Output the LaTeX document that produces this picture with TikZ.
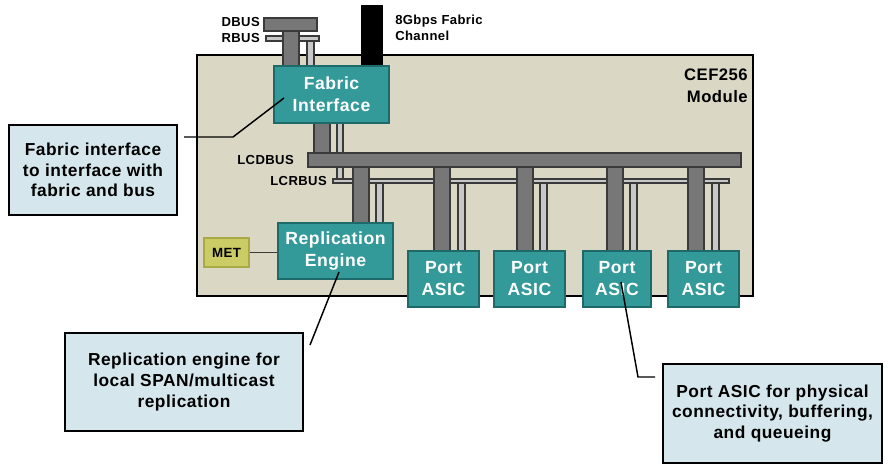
\documentclass[tikz,border=0pt]{standalone}
\usepackage{fontspec}
\setmainfont{Liberation Sans}[LetterSpace=3]
\definecolor{modbg}{RGB}{218,216,197}
\definecolor{tealf}{RGB}{51,153,153}
\definecolor{teald}{RGB}{30,105,105}
\definecolor{busg}{RGB}{119,119,119}
\definecolor{busd}{RGB}{58,58,58}
\definecolor{thinf}{RGB}{200,200,200}
\definecolor{callf}{RGB}{213,231,237}
\definecolor{metf}{RGB}{204,204,102}
\definecolor{metd}{RGB}{170,170,68}
\tikzset{
  bx/.style args={#1/#2}{minimum width={(#1)*0.75pt}, minimum height={(#2)*0.75pt}, inner sep=0pt, align=center},
  comp/.style={draw=teald, fill=tealf, line width=1.3pt, text=white, font=\fontsize{13.2}{16.5}\selectfont\bfseries},
  callout/.style={draw=black, fill=callf, line width=1.6pt, text=black, font=\fontsize{13}{15.4}\selectfont\bfseries},
  metbox/.style={draw=metd, fill=metf, line width=1.3pt, font=\fontsize{10}{12}\selectfont\bfseries},
  thick bus/.style={fill=busg, draw=busd, line width=1pt},
  thin bus/.style={fill=thinf, draw=busd, line width=0.9pt},
  lbl/.style={font=\fontsize{9.8}{12}\selectfont\bfseries, inner sep=0pt},
  leader/.style={draw=black, line width=1.1pt},
}
\begin{document}
\begin{tikzpicture}[x=0.75pt, y=-0.75pt]
\useasboundingbox (0,0) rectangle (888,473);
% module
\draw[fill=modbg, line width=1.6pt] (197,55) rectangle (753,296);
% thin verticals
\draw[thin bus] (307,41) rectangle (314,66);
\draw[thin bus] (337,123) rectangle (343,179);
\foreach \a/\b in {376/223,458/251,540/251,630/251,712/251}
  \draw[thin bus] (\a,183) rectangle (\a+7,\b);
% thin bars
\draw[thin bus] (266,36) rectangle (319,41);
\draw[thin bus] (333,179) rectangle (729,183);
% thick verticals
\draw[thick bus] (283,31) rectangle (299,66);
\draw[thick bus] (314,123) rectangle (330,153);
\foreach \a/\b in {353/223,434/251,517/251,607/251,688/251}
  \draw[thick bus] (\a,167) rectangle (\a+16,\b);
% thick bars
\draw[thick bus] (264,18) rectangle (317,31);
\draw[thick bus] (308,153) rectangle (741,167);
% fabric channel
\fill[black] (361,5) rectangle (383,66);
% components
\node[comp, bx=115/57] (fab) at (331.5,94.5) {Fabric\\Interface};
\node[comp, bx=115/56] (rep) at (335.5,251) {Replication\\Engine};
\node[comp, bx=71/56] (p1) at (443.5,279) {Port\\ASIC};
\node[comp, bx=71/56] (p2) at (529.5,279) {Port\\ASIC};
\node[comp, bx=68/56] (p3) at (617,279) {Port\\ASIC};
\node[comp, bx=71/56] (p4) at (703.5,279) {Port\\ASIC};
\node[metbox, bx=45/29] (met) at (226.5,252.5) {MET};
% labels
\node[lbl, anchor=east] (dbus) at (260,22) {DBUS};
\node[lbl, anchor=east] (rbus) at (260,38) {RBUS};
\node[lbl, anchor=west, align=left] (chan) at (395,28) {8Gbps Fabric\\Channel};
\node[lbl, anchor=east] (lcd) at (294,160) {LCDBUS};
\node[lbl, anchor=east] (lcr) at (327,181) {LCRBUS};
\node[font=\fontsize{12.5}{16.5}\selectfont\bfseries, anchor=east, align=right, inner sep=0pt] (cef) at (748,86) {CEF256\\Module};
% callouts
\node[callout, bx=168/90] (c1) at (93,170) {Fabric interface\\to interface with\\fabric and bus};
\node[callout, bx=238/98] (c2) at (184,382) {Replication engine for\\local SPAN/multicast\\replication};
\node[callout, bx=219/99] (c3) at (772.5,413.5) {Port ASIC for physical\\connectivity, buffering,\\and queueing};
% leaders
\coordinate (l1a) at (284,98);
\coordinate (l1b) at (233,137);
\coordinate (l1c) at (184,137);
\draw[leader] (l1a) -- (l1b) -- (l1c);
\coordinate (l2a) at (339,272);
\coordinate (l2b) at (310,345);
\draw[leader] (l2a) -- (l2b);
\coordinate (l3a) at (621,282);
\coordinate (l3b) at (638,377);
\coordinate (l3c) at (655,377);
\draw[leader] (l3a) -- (l3b) -- (l3c);
\draw[draw=busd, line width=1.1pt] (met.east) -- (rep.west |- met.east);
\end{tikzpicture}
\end{document}
